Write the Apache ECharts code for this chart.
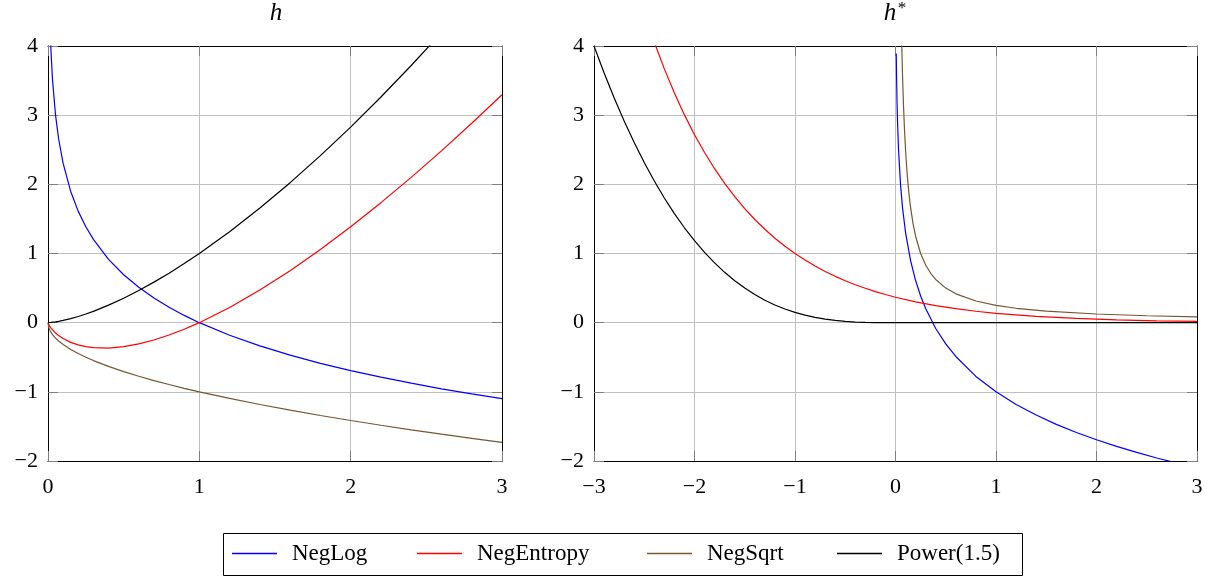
<!DOCTYPE html>
<html><head><meta charset="utf-8">
<script src="https://cdn.jsdelivr.net/npm/echarts@6/dist/echarts.min.js"></script>
<style>html,body{margin:0;padding:0;background:#fff}#c{width:1213px;height:579px}</style>
</head><body><div id="c"></div>
<script>
// ---------- Left panel: h ----------
const LEFT_X = [0, 0.005, 0.01, 0.02, 0.03, 0.05, 0.07, 0.1, 0.15, 0.2, 0.25, 0.3, 0.4, 0.5, 0.6, 0.7, 0.8, 0.9, 1.0, 1.2, 1.4, 1.6, 1.8, 2.0, 2.2, 2.4, 2.6, 2.8, 3.0];
const negLog_h     = [null, 5.298, 4.605, 3.912, 3.507, 2.996, 2.659, 2.303, 1.897, 1.609, 1.386, 1.204, 0.916, 0.693, 0.511, 0.357, 0.223, 0.105, 0, -0.182, -0.336, -0.470, -0.588, -0.693, -0.788, -0.875, -0.956, -1.030, -1.099];
const negEntropy_h = [0, -0.026, -0.046, -0.078, -0.105, -0.150, -0.186, -0.230, -0.285, -0.322, -0.347, -0.361, -0.367, -0.347, -0.306, -0.250, -0.179, -0.095, 0, 0.219, 0.471, 0.752, 1.058, 1.386, 1.735, 2.101, 2.484, 2.883, 3.296];
const negSqrt_h    = [0, -0.071, -0.100, -0.141, -0.173, -0.224, -0.265, -0.316, -0.387, -0.447, -0.500, -0.548, -0.632, -0.707, -0.775, -0.837, -0.894, -0.949, -1.000, -1.095, -1.183, -1.265, -1.342, -1.414, -1.483, -1.549, -1.612, -1.673, -1.732];
const power_h      = [0, 0.000, 0.001, 0.003, 0.005, 0.011, 0.019, 0.032, 0.058, 0.089, 0.125, 0.164, 0.253, 0.354, 0.465, 0.586, 0.716, 0.854, 1.000, 1.315, 1.657, 2.024, 2.415, 2.828, 3.263, 3.718, 4.192, 4.685, 5.196];

// ---------- Right panel: h* ----------
const negLogStar_x = [0.0075, 0.01, 0.015, 0.02, 0.03, 0.05, 0.07, 0.1, 0.15, 0.2, 0.25, 0.3, 0.4, 0.5, 0.6, 0.8, 1.0, 1.2, 1.4, 1.6, 1.8, 2.0, 2.2, 2.4, 2.6, 2.8, 3.0];
const negLogStar_y = [3.893, 3.605, 3.200, 2.912, 2.507, 1.996, 1.659, 1.303, 0.897, 0.609, 0.386, 0.204, -0.084, -0.307, -0.489, -0.777, -1.000, -1.182, -1.336, -1.470, -1.588, -1.693, -1.788, -1.875, -1.956, -2.030, -2.099];

const negEntropyStar_x = [-2.6, -2.5, -2.4, -2.3, -2.2, -2.1, -2.0, -1.9, -1.8, -1.7, -1.6, -1.5, -1.4, -1.3, -1.2, -1.1, -1.0, -0.9, -0.8, -0.7, -0.6, -0.5, -0.4, -0.3, -0.2, -0.1, 0, 0.2, 0.4, 0.6, 0.8, 1.0, 1.4, 1.8, 2.2, 2.6, 3.0];
const negEntropyStar_y = [4.953, 4.482, 4.055, 3.669, 3.320, 3.004, 2.718, 2.460, 2.226, 2.014, 1.822, 1.649, 1.492, 1.350, 1.221, 1.105, 1.000, 0.905, 0.819, 0.741, 0.670, 0.607, 0.549, 0.497, 0.449, 0.407, 0.368, 0.301, 0.247, 0.202, 0.165, 0.135, 0.091, 0.061, 0.041, 0.027, 0.018];

const negSqrtStar_x = [0.05, 0.0625, 0.07, 0.08, 0.09, 0.1, 0.11, 0.12, 0.135, 0.15, 0.175, 0.2, 0.25, 0.3, 0.35, 0.4, 0.5, 0.6, 0.8, 1.0, 1.2, 1.5, 2.0, 2.5, 3.0];
const negSqrtStar_y = [5.000, 4.000, 3.571, 3.125, 2.778, 2.500, 2.273, 2.083, 1.852, 1.667, 1.429, 1.250, 1.000, 0.833, 0.714, 0.625, 0.500, 0.417, 0.313, 0.250, 0.208, 0.167, 0.125, 0.100, 0.083];

const powerStar_x = [-3.0, -2.9, -2.8, -2.7, -2.6, -2.5, -2.4, -2.3, -2.2, -2.1, -2.0, -1.9, -1.8, -1.7, -1.6, -1.5, -1.4, -1.3, -1.2, -1.1, -1.0, -0.9, -0.8, -0.7, -0.6, -0.5, -0.4, -0.3, -0.2, -0.1, 0, 3.0];
const powerStar_y = [4.000, 3.613, 3.252, 2.916, 2.604, 2.315, 2.048, 1.803, 1.577, 1.372, 1.185, 1.016, 0.864, 0.728, 0.607, 0.500, 0.407, 0.325, 0.256, 0.197, 0.148, 0.108, 0.076, 0.051, 0.032, 0.019, 0.009, 0.004, 0.001, 0.000, 0, 0];

const SERIES_NAMES = ['NegLog', 'NegEntropy', 'NegSqrt', 'Power(1.5)'];
const COLORS = ['#0000ff', '#ff0000', '#7a5530', '#000000'];
const X_TICKS_LEFT = [0, 3, 1];     // min, max, interval
const X_TICKS_RIGHT = [-3, 3, 1];
const Y_TICKS = [-2, 4, 1];
const TITLES = ['h', 'h'];

const FONT = '"Liberation Serif", "DejaVu Serif", serif';
const fmt = v => v < 0 ? '\u2212' + (-v) : String(v);
const pairs = (xs, ys) => xs.map((x, i) => [x, ys[i]]).filter(p => p[1] !== null);

function xAxes(grid, t) {
  const base = {gridIndex: grid, type: 'value', min: t[0], max: t[1], interval: t[2],
    axisLine: {show: true, onZero: false, lineStyle: {color: '#000', width: 1}},
    axisTick: {show: true, inside: true, length: 10, lineStyle: {color: '#7f7f7f', width: 1}}};
  return [
    Object.assign({}, base, {position: 'bottom',
      axisLabel: {margin: 15, color: '#000', fontFamily: FONT, fontSize: 22, formatter: fmt},
      splitLine: {show: true, lineStyle: {color: '#c0c0c0', width: 1}}}),
    Object.assign({}, base, {position: 'top', axisLabel: {show: false}, splitLine: {show: false}})
  ];
}
function yAxes(grid, t) {
  const base = {gridIndex: grid, type: 'value', min: t[0], max: t[1], interval: t[2],
    axisLine: {show: true, onZero: false, lineStyle: {color: '#000', width: 1}},
    axisTick: {show: true, inside: true, length: 10, lineStyle: {color: '#7f7f7f', width: 1}}};
  return [
    Object.assign({}, base, {position: 'left',
      axisLabel: {margin: 10, color: '#000', fontFamily: FONT, fontSize: 22, formatter: fmt},
      splitLine: {show: true, lineStyle: {color: '#c0c0c0', width: 1}}}),
    Object.assign({}, base, {position: 'right', axisLabel: {show: false}, splitLine: {show: false}})
  ];
}

function line(name, idx, data, axisIdx) {
  return {name: name, type: 'line', xAxisIndex: axisIdx, yAxisIndex: axisIdx, data: data,
    showSymbol: false, symbol: 'none', clip: true, smooth: false, z: 3,
    lineStyle: {color: COLORS[idx], width: 1.2}, itemStyle: {color: COLORS[idx]}};
}

const legendCommon = {orient: 'horizontal', padding: 0, icon: 'rect', itemWidth: 45, itemHeight: 1.3, top: 542,
  selectedMode: false,
  textStyle: {fontFamily: FONT, fontSize: 23, color: '#000', padding: [0, 0, 0, 10]}};
const LEGEND_LEFT = [232, 417, 647, 837];

const option = {
  animation: false,
  backgroundColor: '#fff',
  grid: [
    {left: 48, top: 46, width: 454, height: 415, containLabel: false, outerBoundsMode: 'none'},
    {left: 594, top: 46, width: 603, height: 415, containLabel: false, outerBoundsMode: 'none'}
  ],
  xAxis: [...xAxes(0, X_TICKS_LEFT), ...xAxes(1, X_TICKS_RIGHT)],
  yAxis: [...yAxes(0, Y_TICKS), ...yAxes(1, Y_TICKS)],
  legend: SERIES_NAMES.map((n, i) => Object.assign({}, legendCommon, {data: [n], left: LEGEND_LEFT[i]})),
  graphic: [
    {type: 'rect', silent: true, shape: {x: 223.5, y: 533.5, width: 799, height: 42},
      style: {fill: 'none', stroke: '#000', lineWidth: 1}},
    {type: 'text', silent: true, x: 276, y: 13,
      style: {text: TITLES[0], fontFamily: FONT, fontSize: 25, fontStyle: 'italic', fill: '#000', align: 'center', verticalAlign: 'middle'}},
    {type: 'text', silent: true, x: 890, y: 13,
      style: {text: TITLES[1], fontFamily: FONT, fontSize: 25, fontStyle: 'italic', fill: '#000', align: 'center', verticalAlign: 'middle'}},
    {type: 'text', silent: true, x: 902, y: 9,
      style: {text: '*', fontFamily: FONT, fontSize: 17, fill: '#000', align: 'center', verticalAlign: 'middle'}}
  ],
  series: [
    line(SERIES_NAMES[0], 0, pairs(LEFT_X, negLog_h), 0),
    line(SERIES_NAMES[1], 1, pairs(LEFT_X, negEntropy_h), 0),
    line(SERIES_NAMES[2], 2, pairs(LEFT_X, negSqrt_h), 0),
    line(SERIES_NAMES[3], 3, pairs(LEFT_X, power_h), 0),
    line(SERIES_NAMES[0], 0, pairs(negLogStar_x, negLogStar_y), 2),
    line(SERIES_NAMES[1], 1, pairs(negEntropyStar_x, negEntropyStar_y), 2),
    line(SERIES_NAMES[2], 2, pairs(negSqrtStar_x, negSqrtStar_y), 2),
    line(SERIES_NAMES[3], 3, pairs(powerStar_x, powerStar_y), 2)
  ]
};
const chart = echarts.init(document.getElementById('c'));
chart.setOption(option);
</script>
</body></html>
